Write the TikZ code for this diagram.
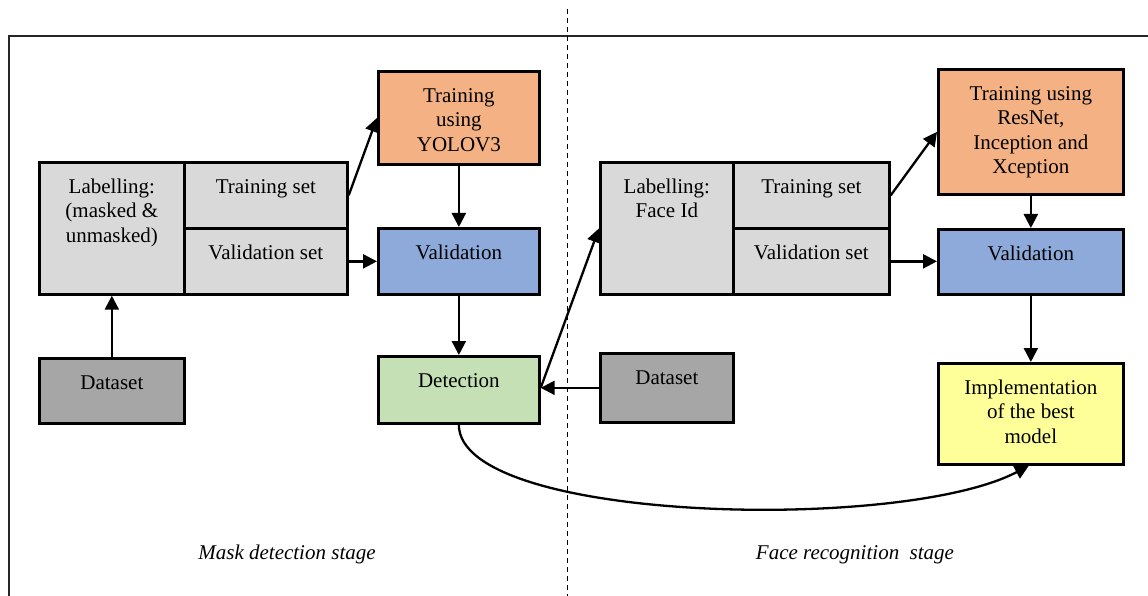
\documentclass[tikz,border=0pt]{standalone}
\usepackage{fontspec}
\setmainfont{Liberation Serif}
\usetikzlibrary{arrows.meta}
\definecolor{lgray}{HTML}{D9D9D9}
\definecolor{dgray}{HTML}{A6A6A6}
\definecolor{orng}{HTML}{F4B183}
\definecolor{blu}{HTML}{8EAADB}
\definecolor{grn}{HTML}{C5E0B4}
\definecolor{ylw}{HTML}{FFFF99}
\newcommand{\bt}[3]{\parbox[c][#2][t]{#1}{\centering\rule{0pt}{31pt}#3}}
\tikzset{
  blk/.style={draw=black, line width=2.7pt, inner sep=0pt, anchor=north west,
    font=\fontsize{21}{24.5}\selectfont},
  arr/.style={line width=2.3pt, -{Triangle[length=14pt,width=14pt]}},
  stage/.style={font=\fontsize{21}{24.5}\selectfont\itshape, inner sep=0pt, anchor=base}
}
\begin{document}
\begin{tikzpicture}[x=1pt,y=-1pt]
\clip (0,0) rectangle (1148,596);
\fill[white] (0,0) rectangle (1148,596);
% frame and divider
\draw[line width=2.3pt, black!85] (9,620) -- (9,36) -- (1170,36);
\draw[line width=1pt, dash pattern=on 5pt off 4pt] (567,9) -- (567,600);
% left stage
\node[blk, fill=lgray] (lab1) at (38,161) {\bt{145pt}{132pt}{Labelling:\\(masked \&\\unmasked)}};
\node[blk, fill=lgray] (ts1) at (183,161) {\bt{163pt}{66pt}{Training set}};
\node[blk, fill=lgray] (vs1) at (183,227) {\bt{163pt}{66pt}{Validation set}};
\node[blk, fill=orng] (tr1) at (377,70) {\bt{161pt}{93pt}{Training\\using\\YOLOV3}};
\node[blk, fill=blu] (val1) at (377,227) {\bt{161pt}{66pt}{Validation}};
\node[blk, fill=grn] (det) at (377,355) {\bt{161pt}{67pt}{Detection}};
\node[blk, fill=dgray] (ds1) at (38,357) {\bt{145pt}{65pt}{Dataset}};
% right stage
\node[blk, fill=lgray] (lab2) at (599,161) {\bt{133pt}{132pt}{Labelling:\\Face Id}};
\node[blk, fill=lgray] (ts2) at (732,161) {\bt{156pt}{66pt}{Training set}};
\node[blk, fill=lgray] (vs2) at (732,227) {\bt{156pt}{66pt}{Validation set}};
\node[blk, fill=orng] (tr2) at (937,68) {\bt{185pt}{125pt}{Training using\\ResNet,\\Inception and\\Xception}};
\node[blk, fill=blu] (val2) at (937,228) {\bt{185pt}{65pt}{Validation}};
\node[blk, fill=dgray] (ds2) at (599,352) {\bt{133pt}{69pt}{Dataset}};
\node[blk, fill=ylw] (impl) at (937,362) {\bt{185pt}{101pt}{Implementation\\of the best\\model}};
% stage labels
\node[stage] (st1) at (287,559) {Mask detection stage};
\node[stage] (st2) at (855,559) {Face recognition\ \ stage};
% connectors
\draw[arr] (ts1.east) -- (tr1.west);
\draw[arr] (vs1.east) -- (val1.west);
\draw[arr] (tr1.south) -- (val1.north);
\draw[arr] (val1.south) -- (det.north);
\draw[arr] (ds1.north) -- (lab1.south);
\draw[arr] (ds2.west) -- (ds2.west -| det.east);
\draw[arr] ([yshift=2pt]det.east) -- (lab2.west);
\draw[arr] (ts2.east) -- (tr2.west);
\draw[arr] (vs2.east) -- (vs2.east -| val2.west);
\draw[arr] (tr2.south) -- (val2.north);
\draw[arr] (val2.south) -- (impl.north);
\draw[arr] (det.south) .. controls +(0,98) and +(-127,67) .. ([xshift=-2pt]impl.south);
\end{tikzpicture}
\end{document}
